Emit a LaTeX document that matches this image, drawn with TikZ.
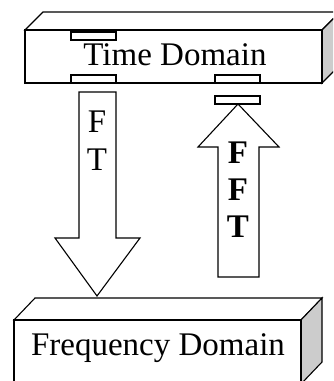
\documentclass[tikz,border=0pt]{standalone}
\usepackage{fontspec}
\setmainfont{Liberation Serif}
\begin{document}
\begin{tikzpicture}[x=1pt, y=-1pt, line width=1.1pt, line join=miter, font=\fontsize{33}{40}\selectfont]
	\useasboundingbox (0,0) rectangle (333,381);
	\clip (0,0) rectangle (333,381);
	% time domain block
	\draw (25,30)--(43,12)--(340,12)--(322,30)--cycle;
	\filldraw[fill=gray!40] (322,30)--(340,12)--(340,65)--(322,83)--cycle;
	\draw (25,30) rectangle (322,83);
	\node[anchor=base] (time) at (175,65) {Time Domain};
	% frequency domain block
	\draw (14,320)--(35,298)--(322,298)--(301,320)--cycle;
	\filldraw[fill=gray!40] (301,320)--(322,298)--(322,362)--(301,384)--cycle;
	\draw (14,320) rectangle (301,384);
	\node[anchor=base] (freq) at (158,355) {Frequency Domain};
	% tabs
	\draw (71,32) rectangle (116,40) (71,75) rectangle (116,83);
	\draw (215,75) rectangle (260,83) (215,96) rectangle (260,104);
	% FT arrow (down)
	\draw (79,92)--(116,92)--(116,238)--(140,238)--(97,296)--(55,238)--(79,238)--cycle;
	\node[anchor=base] (ft1) at (97,132) {F};
	\node[anchor=base] (ft2) at (97,170) {T};
	% FFT arrow (up)
	\draw (218,277)--(259,277)--(259,147)--(279,147)--(238,104)--(198,147)--(218,147)--cycle;
	\node[anchor=base, font=\fontsize{33}{40}\selectfont\bfseries] (fft1) at (238,163) {F};
	\node[anchor=base, font=\fontsize{33}{40}\selectfont\bfseries] (fft2) at (238,200) {F};
	\node[anchor=base, font=\fontsize{33}{40}\selectfont\bfseries] (fft3) at (238,237) {T};
\end{tikzpicture}
\end{document}
